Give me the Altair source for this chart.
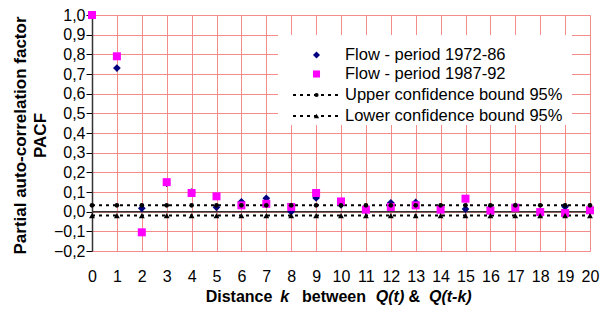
import altair as alt
import pandas as pd

# ---- data ----
lags = list(range(21))
flow_1972_86 = [1.0, 0.73, 0.017, 0.145, 0.10, 0.022, 0.05, 0.068, 0.0, 0.07, 0.035,
                0.007, 0.045, 0.047, 0.02, 0.013, 0.02, 0.027, 0.0, 0.025, 0.007]
flow_1987_92 = [1.0, 0.79, -0.105, 0.15, 0.095, 0.078, 0.032, 0.04, 0.024, 0.095, 0.052,
                0.01, 0.024, 0.032, 0.01, 0.066, 0.005, 0.02, -0.002, -0.007, 0.007]
upper_bound = [0.032] * 21
lower_bound = [-0.02] * 21
legend_labels = ["Flow - period 1972-86", "Flow - period 1987-92",
                 "Upper confidence bound 95%", "Lower confidence bound 95%"]
y_ticks = [round(-0.2 + 0.1 * i, 1) for i in range(13)]

df = pd.DataFrame({
    "k": lags,
    "s1": flow_1972_86,
    "s2": flow_1987_92,
    "up": upper_bound,
    "lo": lower_bound,
})

FONT = "Liberation Sans"
GRID = "#F58C8C"

x_scale = alt.Scale(domain=[0, 20], nice=False, zero=False)
y_scale = alt.Scale(domain=[-0.2, 1.0], nice=False, zero=False)

x_axis = alt.Axis(values=lags, grid=True, gridColor=GRID, gridWidth=1, domain=False,
                  ticks=False, labelPadding=17, labelFontSize=16, labelFont=FONT,
                  labelColor="black", title=None, labelAngle=0,
                  labelOverlap=False, labelFlush=False, labelBound=False)
y_axis = alt.Axis(values=y_ticks, grid=True, gridColor=GRID, gridWidth=1,
                  domain=True, domainColor="#333333", domainWidth=1.5,
                  ticks=True, tickColor="black", tickSize=6, tickWidth=1,
                  labelPadding=1, labelFontSize=16, labelFont=FONT, labelColor="black",
                  labelOverlap=False, labelFlush=False, labelBound=False,
                  labelExpr="replace(format(datum.value, '.1f'), '.', ',')",
                  title=["Partial auto-correlation factor", "PACF"],
                  titleFont=FONT, titleFontSize=17, titleFontWeight="bold",
                  titleColor="black", titleLineHeight=20,
                  titleX=-63, titleY=120, titleAngle=-90, titleAlign="center",
                  titleBaseline="bottom")


def X():
    return alt.X("k:Q", scale=x_scale, axis=x_axis)


def Y(field):
    return alt.Y(f"{field}:Q", scale=y_scale, axis=y_axis)


base = alt.Chart(df)

zero_rule = alt.Chart(pd.DataFrame({"z": [0.0]})).mark_rule(
    color="#333333", strokeWidth=1.5).encode(y=Y("z"))

dash = [3, 4]
up_line = base.mark_line(color="black", strokeWidth=2, strokeDash=dash).encode(
    x=X(), y=Y("up"))
lo_line = base.mark_line(color="black", strokeWidth=2, strokeDash=dash).encode(
    x=X(), y=Y("lo"))

s1_pts = base.mark_point(shape="diamond", filled=True, color="#000080", size=60,
                         opacity=1).encode(x=X(), y=Y("s1"))
s2_pts = base.mark_point(shape="square", filled=True, color="#FF00FF", size=64,
                         opacity=1).encode(x=X(), y=Y("s2"))
up_pts = base.mark_point(shape="circle", filled=True, color="black", size=22,
                         opacity=1).encode(x=X(), y=Y("up"))
lo_pts = base.mark_point(shape="triangle-up", filled=True, color="black", size=34,
                         opacity=1).encode(x=X(), y=Y("lo"))

# ---- legend (drawn by hand) ----
one = alt.Chart(pd.DataFrame({"a": [0]}))
leg_box = one.mark_rect(color="white").encode(
    x=alt.value(186), x2=alt.value(480), y=alt.value(20), y2=alt.value(110))
row_y = [40, 59, 80, 101]
sym_x = 224.5
leg_layers = [leg_box]
leg_layers.append(one.mark_point(shape="diamond", filled=True, color="#000080", size=50,
                                 opacity=1).encode(x=alt.value(sym_x), y=alt.value(row_y[0])))
leg_layers.append(one.mark_point(shape="square", filled=True, color="#FF00FF", size=50,
                                 opacity=1).encode(x=alt.value(sym_x), y=alt.value(row_y[1])))
for i, shp, sz in [(2, "circle", 18), (3, "triangle-up", 28)]:
    leg_layers.append(one.mark_rule(color="black", strokeWidth=2, strokeDash=dash).encode(
        x=alt.value(201), x2=alt.value(250), y=alt.value(row_y[i])))
    leg_layers.append(one.mark_point(shape=shp, filled=True, color="black", size=sz,
                                     opacity=1).encode(x=alt.value(sym_x), y=alt.value(row_y[i])))
for i, lab in enumerate(legend_labels):
    leg_layers.append(one.mark_text(align="left", baseline="middle", font=FONT,
                                    fontSize=16.5, color="black").encode(
        x=alt.value(253), y=alt.value(row_y[i]), text=alt.value(lab)))

# ---- x title with italic parts ----
title_parts = [("Distance", "normal", 239), ("k", "italic", 284.6),
               ("between", "normal", 334), ("Q(t)", "italic", 390),
               ("&", "normal", 414.3), ("Q(t-k)", "italic", 450.3)]
title_layers = []
for txt, sty, cx in title_parts:
    title_layers.append(one.mark_text(align="center", baseline="alphabetic", font=FONT,
                                      fontSize=16, fontWeight="bold", fontStyle=sty,
                                      color="black").encode(
        x=alt.value(cx - 92), y=alt.value(287), text=alt.value(txt)))

chart = alt.layer(
    zero_rule, up_line, lo_line, s1_pts, s2_pts, up_pts, lo_pts,
    *leg_layers, *title_layers
).properties(
    width=498, height=236,
    autosize=alt.AutoSizeParams(type="none"),
    padding={"left": 84, "top": 7, "right": 10, "bottom": 56},
).configure_view(stroke=None).configure_axis(
    labelOverlap=False
).configure(background="white")

chart.save("out.html", embed_options={"renderer": "svg", "actions": False})
